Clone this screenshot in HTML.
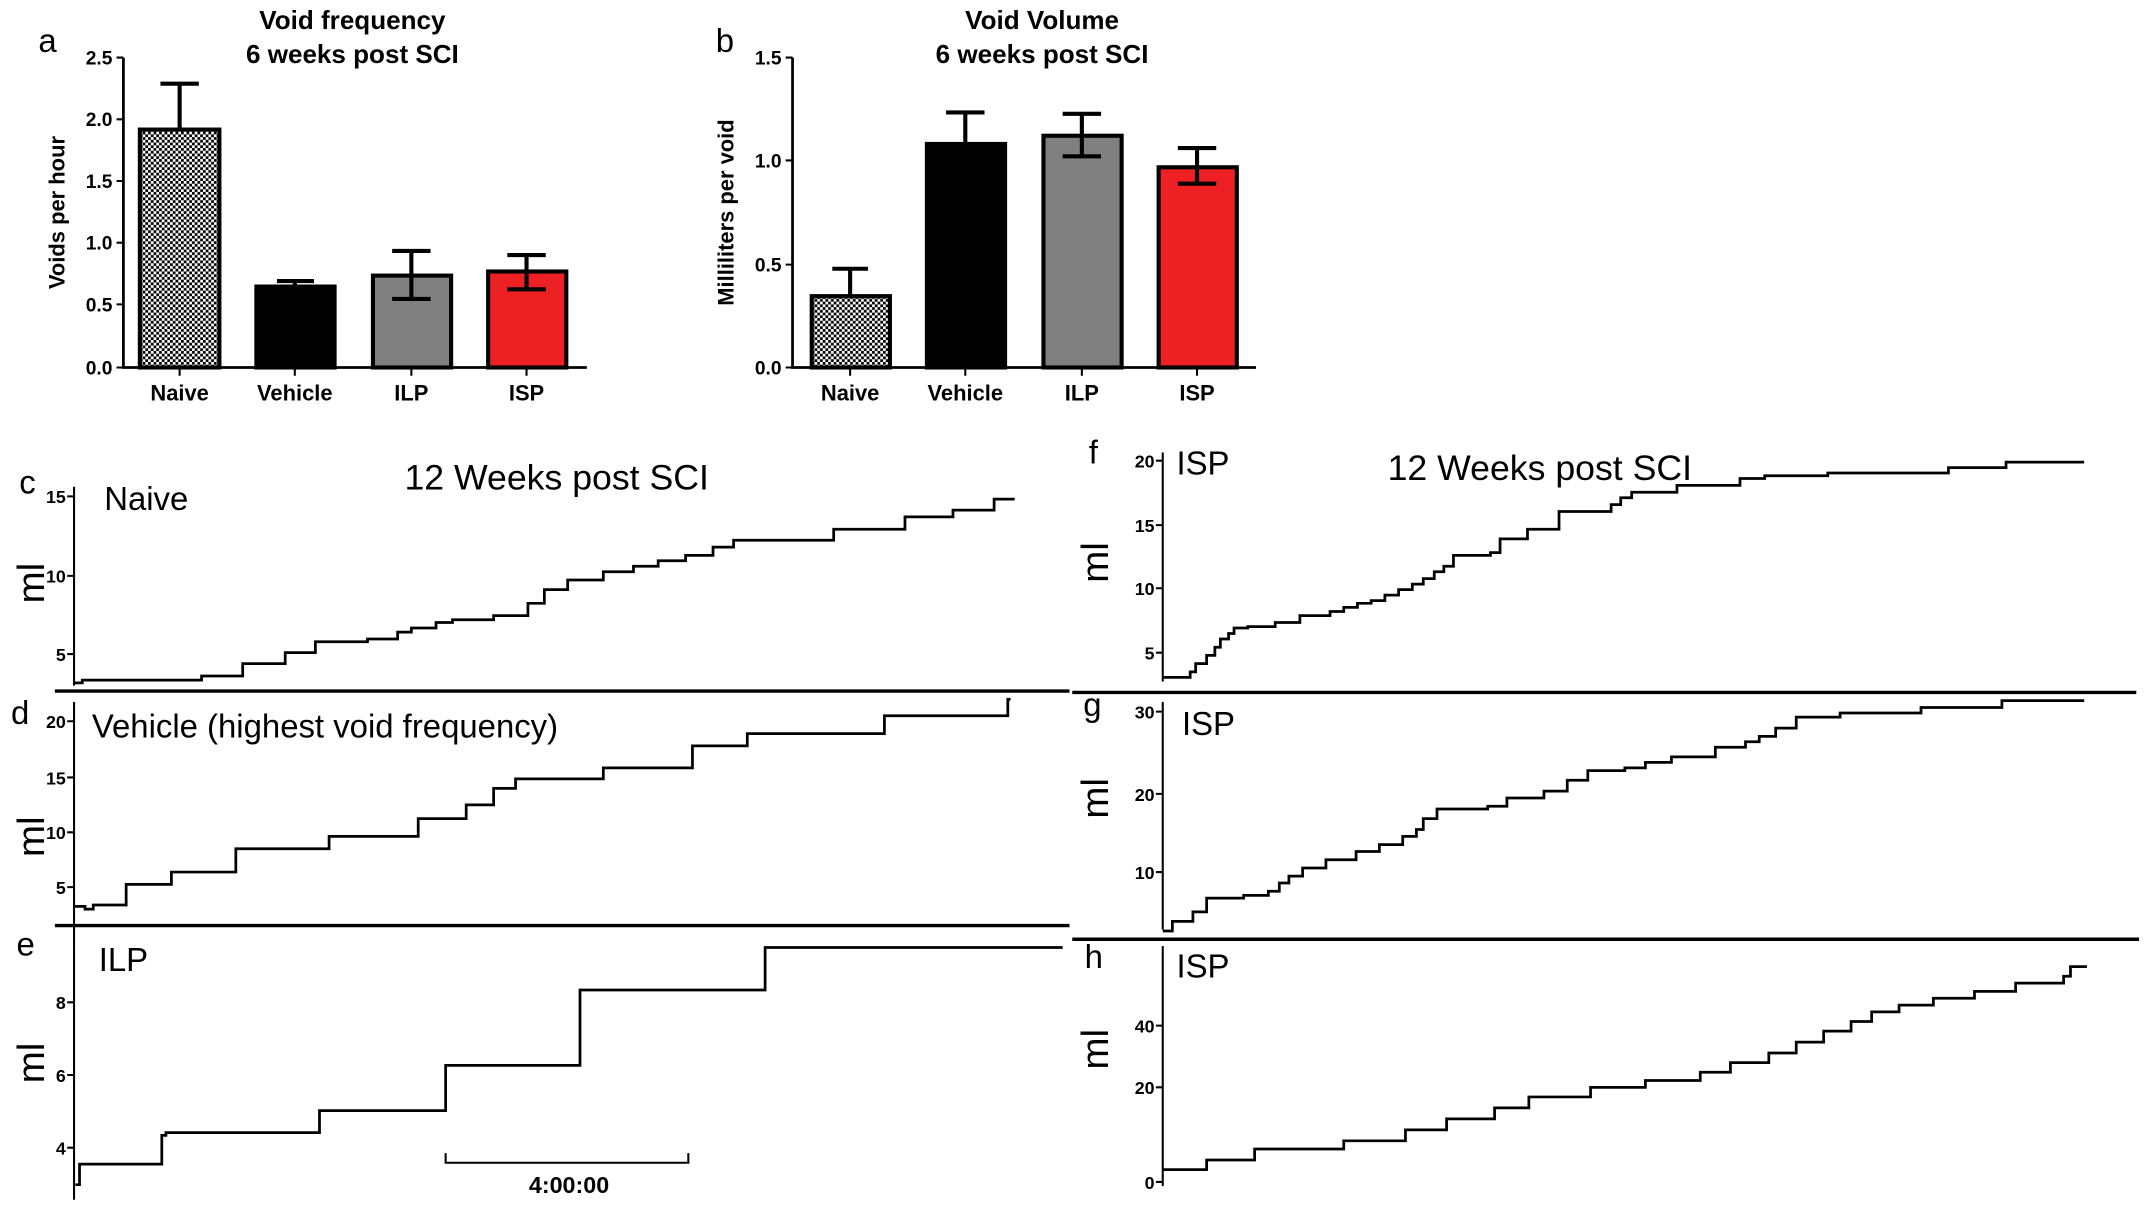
<!DOCTYPE html>
<html><head><meta charset="utf-8"><style>
html,body{margin:0;padding:0;background:#fff}
svg{display:block}
text{font-family:"Liberation Sans",Arial,sans-serif}
.b{font-weight:bold}
</style></head><body>
<svg width="2150" height="1208" viewBox="0 0 1568 881" xmlns="http://www.w3.org/2000/svg">
<defs>
<pattern id="chk" width="4" height="4" patternUnits="userSpaceOnUse">
<rect width="4" height="4" fill="#fff"/><rect width="2" height="2" fill="#000"/><rect x="2" y="2" width="2" height="2" fill="#000"/>
</pattern>
</defs>
<g stroke="#000" fill="none">
<path d="M90 42V268H428" stroke-width="2"/>
<path d="M85 42H90M85 87H90M85 132H90M85 177H90M85 222H90M85 268H90M131 268V274M215 268V274M300 268V274M384 268V274" stroke-width="1.5"/>
<rect x="102" y="94.5" width="58" height="173.5" fill="url(#chk)" stroke-width="3"/>
<rect x="187" y="209" width="57" height="59" fill="#000" stroke-width="3"/>
<rect x="272" y="201" width="57" height="67" fill="#808080" stroke-width="3"/>
<rect x="356" y="198" width="57" height="70" fill="#ed2024" stroke-width="3"/>
<path d="M131 94V61M117 61H145M215 209V205M202 205H229M300 201V183M286 183H314M300 201V218M286 218H314M384 198V186M370 186H398M384 198V211M370 211H398" stroke-width="3"/>
<path d="M578 42V268H916" stroke-width="2"/>
<path d="M573 42H578M573 117H578M573 193H578M573 268H578M620 268V274M704 268V274M789 268V274M873 268V274" stroke-width="1.5"/>
<rect x="592" y="216" width="57" height="52" fill="url(#chk)" stroke-width="3"/>
<rect x="676" y="105" width="57" height="163" fill="#000" stroke-width="3"/>
<rect x="761" y="99" width="57" height="169" fill="#808080" stroke-width="3"/>
<rect x="845" y="122" width="57" height="146" fill="#ed2024" stroke-width="3"/>
<path d="M620 216V196M607 196H633M704 105V82M690 82H718M789 99V83M775 83H803M789 99V114M775 114H803M873 122V108M859 108H887M873 122V134M859 134H887" stroke-width="3"/>
<path d="M40 504H780M782 505H1558M40 675H780M782 685H1560" stroke-width="2.5"/>
<path d="M54 355V500M49 362H54M49 420H54M49 477H54" stroke-width="1.5"/>
<path d="M54 512V690M49 526H54M49 567H54M49 607H54M49 647H54" stroke-width="1.5"/>
<path d="M54 690V875M49 731H54M49 784H54M49 837H54" stroke-width="1.5"/>
<path d="M325 841V848H502V841" stroke-width="1.5"/>
<path d="M848 330V497M843 336H848M843 383H848M843 429H848M843 476H848" stroke-width="1.5"/>
<path d="M848 512V678M843 519H848M843 579H848M843 636H848" stroke-width="1.5"/>
<path d="M848 690V865M843 748H848M843 793H848M843 862H848" stroke-width="1.5"/>
<g stroke-width="2">
<path d="M54 498H60V496H147V493H177V484H208V476H230V468H268V466H290V461H300V458H318V454H330V452H360V449H385V440H397V430H414V423H440V417H462V413H480V409H500V405H520V399H535V394H608V386H660V377H695V372H725V364H740"/>
<path d="M54 661H62V663H68V660H92V645H125V636H172V619H240V610H305V597H340V587H360V575H376V568H440V560H505V544H545V535H645V522H735V510H737"/>
<path d="M55 864H58V849H118V828H121V826H233V810H325V777H423V722H558V691H775"/>
<path d="M848 494H868V490H872V484H880V478H886V472H890V466H896V462H900V458H910V457H930V454H948V449H970V446H980V443H990V440H1000V438H1010V434H1020V430H1030V426H1038V422H1046V417H1053V413H1060V405H1087V403H1094V393H1114V386H1137V373H1175V368H1182V363H1190V359H1223V354H1269V349H1287V347H1333V345H1421V341H1463V337H1520"/>
<path d="M848 679H855V672H870V665H880V655H907V653H925V650H933V644H940V639H950V633H967V627H989V621H1006V616H1023V610H1033V605H1038V597H1048V590H1085V588H1099V582H1126V577H1143V569H1158V562H1185V560H1200V556H1219V552H1251V545H1273V541H1283V537H1295V531H1310V523H1342V520H1401V516H1460V511H1520"/>
<path d="M848 853H880V846H915V838H980V832H1025V824H1055V816H1090V808H1115V800H1160V793H1200V788H1240V782H1262V775H1290V768H1310V760H1330V752H1350V745H1365V738H1385V733H1410V728H1440V723H1470V717H1505V712H1510V705H1522"/>
</g>
</g>
<g font-size="14" text-anchor="end" class="b">
<text x="82" y="47">2.5</text><text x="82" y="92">2.0</text><text x="82" y="137">1.5</text><text x="82" y="182">1.0</text><text x="82" y="227">0.5</text><text x="82" y="273">0.0</text>
<text x="570" y="47">1.5</text><text x="570" y="122">1.0</text><text x="570" y="198">0.5</text><text x="570" y="273">0.0</text>
</g>
<g font-size="16" text-anchor="middle" class="b">
<text x="131" y="292">Naive</text><text x="215" y="292">Vehicle</text><text x="300" y="292">ILP</text><text x="384" y="292">ISP</text>
<text x="620" y="292">Naive</text><text x="704" y="292">Vehicle</text><text x="789" y="292">ILP</text><text x="873" y="292">ISP</text>
<text x="257" y="21" font-size="19">Void frequency</text><text x="257" y="46" font-size="19">6 weeks post SCI</text>
<text x="760" y="21" font-size="19">Void Volume</text><text x="760" y="46" font-size="19">6 weeks post SCI</text>
<text transform="translate(47 155) rotate(-90)" font-size="16">Voids per hour</text>
<text transform="translate(535 155) rotate(-90)" font-size="16">Milliliters per void</text>
<text x="415" y="870" font-size="17">4:00:00</text>
</g>
<g font-size="24">
<text x="28" y="38">a</text><text x="522" y="38">b</text>
<text x="14" y="360">c</text><text x="8" y="528">d</text><text x="12" y="697">e</text>
<text x="794" y="338">f</text><text x="790" y="522">g</text><text x="791" y="706">h</text>
<text x="76" y="372">Naive</text><text x="67" y="538">Vehicle (highest void frequency)</text><text x="72" y="708">ILP</text>
<text x="295" y="357" font-size="26">12 Weeks post SCI</text>
<text x="858" y="346">ISP</text><text x="1012" y="350" font-size="26">12 Weeks post SCI</text>
<text x="862" y="536">ISP</text><text x="858" y="713">ISP</text>
</g>
<g font-size="28">
<text transform="translate(32 440) rotate(-90)">ml</text>
<text transform="translate(32 625) rotate(-90)">ml</text>
<text transform="translate(32 790) rotate(-90)">ml</text>
<text transform="translate(808 425) rotate(-90)">ml</text>
<text transform="translate(808 597) rotate(-90)">ml</text>
<text transform="translate(808 780) rotate(-90)">ml</text>
</g>
<g font-size="13" text-anchor="end" class="b">
<text x="48" y="367">15</text><text x="48" y="425">10</text><text x="48" y="482">5</text>
<text x="48" y="531">20</text><text x="48" y="572">15</text><text x="48" y="612">10</text><text x="48" y="652">5</text>
<text x="48" y="736">8</text><text x="48" y="789">6</text><text x="48" y="842">4</text>
<text x="842" y="341">20</text><text x="842" y="388">15</text><text x="842" y="434">10</text><text x="842" y="481">5</text>
<text x="842" y="524">30</text><text x="842" y="584">20</text><text x="842" y="641">10</text>
<text x="842" y="753">40</text><text x="842" y="798">20</text><text x="842" y="867">0</text>
</g>
</svg>
</body></html>
